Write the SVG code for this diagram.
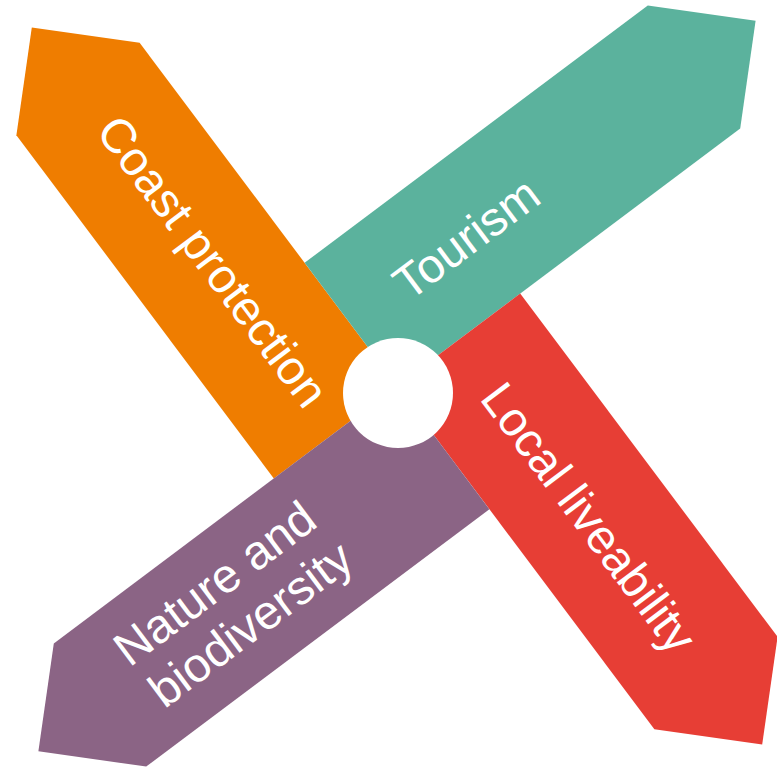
<svg xmlns="http://www.w3.org/2000/svg" width="777" height="767" viewBox="0 0 777 767">
<style>
.lbl{font-family:"Liberation Sans",Arial,Helvetica,sans-serif;font-size:48px;fill:#ffffff}
</style>
<defs>
<polygon id="arrow" points="-506,77 -429,0 0,0 0,154 -429,154"/>
</defs>
<rect width="777" height="767" fill="#ffffff"/>
<g id="coast-protection">
<use href="#arrow" transform="translate(397,386) rotate(53.13)" fill="#EF7D00"/>
<text class="lbl" transform="translate(397,386) rotate(53.13)" x="-385" y="89">Coast protection</text>
</g>
<g id="tourism">
<use href="#arrow" transform="translate(397,386) rotate(143.13)" fill="#5BB29D"/>
<text class="lbl" transform="translate(397,386) rotate(-36.87)" x="60" y="-60">Tourism</text>
</g>
<g id="local-liveability">
<use href="#arrow" transform="translate(397,386) rotate(233.13)" fill="#E73E35"/>
<text class="lbl" transform="translate(397,386) rotate(53.13)" x="59" y="-58">Local liveability</text>
</g>
<g id="nature-biodiversity">
<use href="#arrow" transform="translate(397,386) rotate(323.13)" fill="#8B6485"/>
<text class="lbl" transform="translate(397,386) rotate(-36.87)"><tspan x="-383" y="65">Nature and</tspan><tspan x="-380" y="119">biodiversity</tspan></text>
</g>
<g id="hub">
<circle cx="398" cy="393" r="55" fill="#ffffff"/>
</g>
<g id="connectors"/>
</svg>
